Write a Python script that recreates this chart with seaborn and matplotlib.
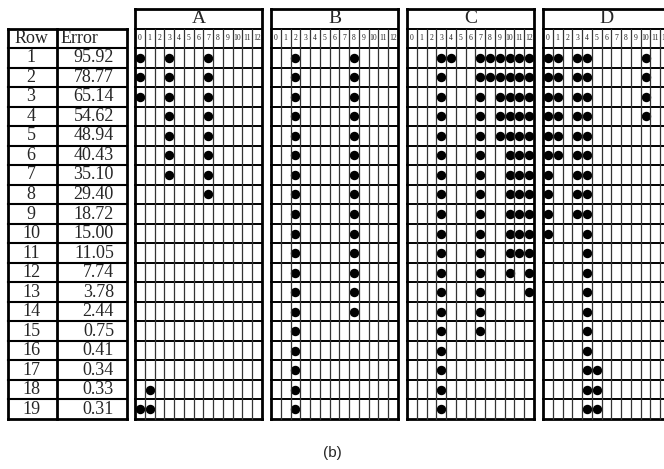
import numpy as np
import pandas as pd
import seaborn as sns
import matplotlib.pyplot as plt

sns.set_style("white")
plt.rcParams["font.family"] = ["Liberation Serif", "DejaVu Serif"]

# data
rows = list(range(1, 20))
errors = [95.92, 78.77, 65.14, 54.62, 48.94, 40.43, 35.10, 29.40, 18.72, 15.00,
          11.05, 7.74, 3.78, 2.44, 0.75, 0.41, 0.34, 0.33, 0.31]
columns = list(range(13))
panel_names = ["A", "B", "C", "D"]

panel_A = [[0, 3, 7], [0, 3, 7], [0, 3, 7], [3, 7], [3, 7], [3, 7], [3, 7], [7],
           [], [], [], [], [], [], [], [], [], [1], [0, 1]]
panel_B = [[2, 8], [2, 8], [2, 8], [2, 8], [2, 8], [2, 8], [2, 8], [2, 8], [2, 8],
           [2, 8], [2, 8], [2, 8], [2, 8], [2, 8], [2], [2], [2], [2], [2]]
panel_C = [[3, 4, 7, 8, 9, 10, 11, 12], [3, 7, 8, 9, 10, 11, 12], [3, 7, 9, 10, 11, 12],
           [3, 7, 9, 10, 11, 12], [3, 7, 9, 10, 11, 12], [3, 7, 10, 11, 12],
           [3, 7, 10, 11, 12], [3, 7, 10, 11, 12], [3, 7, 10, 11, 12], [3, 7, 10, 11, 12],
           [3, 7, 10, 11, 12], [3, 7, 10, 12], [3, 7, 12], [3, 7], [3, 7], [3], [3], [3], [3]]
panel_D = [[0, 1, 3, 4, 10], [0, 1, 3, 4, 10], [0, 1, 3, 4, 10], [0, 1, 3, 4, 10],
           [0, 1, 3, 4], [0, 1, 3, 4], [0, 3, 4], [0, 3, 4], [0, 3, 4], [0, 4],
           [4], [4], [4], [4], [4], [4], [4, 5], [4, 5], [4, 5]]
panels = [panel_A, panel_B, panel_C, panel_D]

recs = []
for name, pdata in zip(panel_names, panels):
    for r, cols in zip(rows, pdata):
        for c in cols:
            recs.append({"panel": name, "row": r, "col": c})
df = pd.DataFrame(recs)

W, H = 664, 469
fig = plt.figure(figsize=(W / 100, H / 100), dpi=100)

top_px, bot_px = 9, 419
def box(x0, w):
    return [x0 / W, 1 - bot_px / H, w / W, (bot_px - top_px) / H]

# y positions: letter row -> -1, number/header row -> 0, data rows -> 1..19
YLIM = (19.5, -1.5)

# left table
ax = fig.add_axes(box(8, 119))
ax.set_xlim(8, 127)
ax.set_ylim(*YLIM)
ax.axis("off")
for y in np.arange(-0.5, 19.6, 1):
    lw = 2 if y in (-0.5, 19.5) else 1.5
    ax.plot([8, 127], [y, y], color="black", lw=lw, clip_on=False, solid_capstyle="projecting")
for x in [8, 57, 127]:
    ax.plot([x, x], [-0.5, 19.5], color="black", lw=2, clip_on=False, solid_capstyle="projecting")
ax.text(31, 0, "Row", ha="center", va="center", fontsize=13)
ax.text(61, 0, "Error", ha="left", va="center", fontsize=13)
for r, e in zip(rows, errors):
    ax.text(31, r, str(r), ha="center", va="center", fontsize=13)
    ax.text(114, r, f"{e:.2f}", ha="right", va="center", fontsize=13)

# dot panels
for i, name in enumerate(panel_names):
    ax = fig.add_axes(box(135 + 136 * i, 127))
    ax.set_xlim(-0.5, 12.5)
    ax.set_ylim(*YLIM)
    ax.axis("off")
    sub = df[df.panel == name]
    sns.scatterplot(data=sub, x="col", y="row", color="black", s=46,
                    edgecolor="black", linewidth=0, legend=False, ax=ax)
    for y in np.arange(-1.5, 19.6, 1):
        lw = 2 if y in (-1.5, 19.5) else 1.4
        ax.plot([-0.5, 12.5], [y, y], color="black", lw=lw, clip_on=False,
                solid_capstyle="projecting")
    for x in np.arange(-0.5, 12.6, 1):
        if x in (-0.5, 12.5):
            ax.plot([x, x], [-1.5, 19.5], color="black", lw=2, clip_on=False,
                    solid_capstyle="projecting")
        else:
            ax.plot([x, x], [-0.5, 19.5], color="#333333", lw=0.9, clip_on=False)
    ax.text(6, -1, name, ha="center", va="center", fontsize=14)
    for c in columns:
        ax.text(c, 0, str(c), ha="center", va="center", fontsize=5.5)

fig.text(332 / W, 1 - 453 / H, "(b)", ha="center", va="center", fontsize=11,
         family=["Liberation Sans", "DejaVu Sans"])

fig.savefig("out.png", dpi=100)
